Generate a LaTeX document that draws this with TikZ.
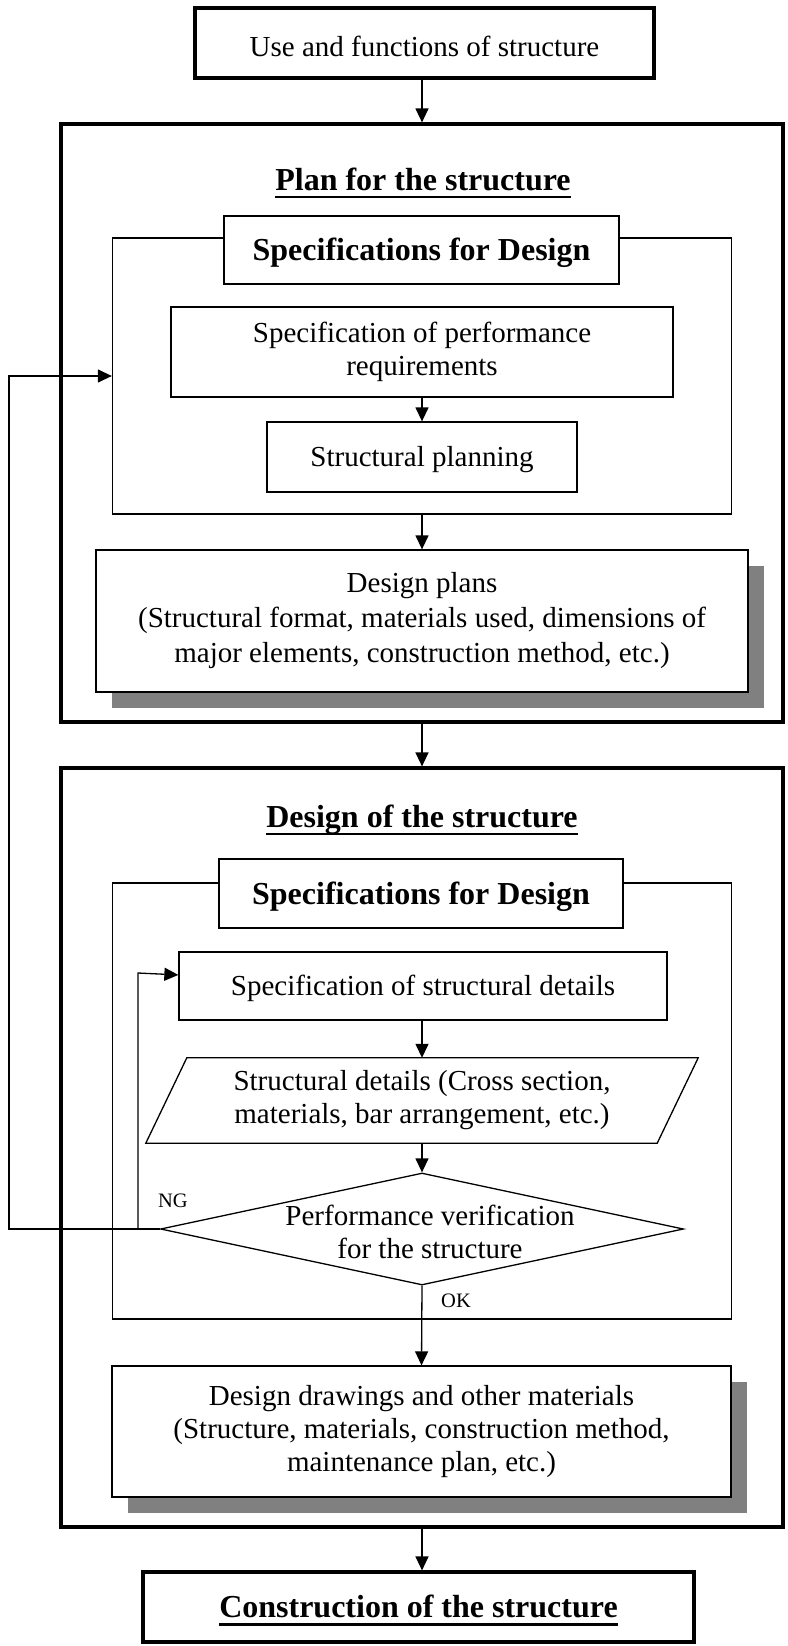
\documentclass[tikz,border=0pt]{standalone}
\usepackage{fontspec}
\setmainfont{Liberation Serif}
\usetikzlibrary{arrows.meta,shapes.geometric,shadows,calc}

% underlined heading text with a fixed rule below the baseline
\newcommand\undertitle[1]{\setbox0=\hbox{#1}\rlap{\rule[-0.26em]{\wd0}{0.08em}}\box0}
\newcommand\rmtext{\fontsize{29pt}{33pt}\selectfont}
\newcommand\bftext{\fontsize{32pt}{36pt}\selectfont\bfseries}
\newcommand\smtext{\fontsize{20.5pt}{24pt}\selectfont}

\begin{document}
\begin{tikzpicture}[x=1pt,y=-1pt,
  heavybox/.style={draw, line width=3.2pt, fill=white, inner sep=0pt},
  lightbox/.style={draw, line width=1.3pt, fill=white, inner sep=0pt, align=center, font=\rmtext},
  frame/.style={draw, line width=1.3pt, inner sep=0pt},
  shadowed/.style={general shadow={fill=black!50, shadow xshift=16pt, shadow yshift=-16pt}},
  flow/.style={line width=1.3pt, -{Triangle[length=14pt,width=13pt]}},
  link/.style={line width=1.3pt},
  caps/.style={text height=19pt, text depth=0pt},
  bcaps/.style={text height=21pt, text depth=0pt},
  tag/.style={inner sep=0pt, font=\smtext},
  heading/.style={inner sep=0pt, font=\bftext, anchor=base},
]
\useasboundingbox (0,0) rectangle (787,1646);

% ---- input
\node[heavybox, font=\rmtext, text height=28pt, text depth=0pt,
      minimum width=459pt, minimum height=70pt] (use) at (424.5,43) {Use and functions of structure};

% ---- planning stage
\node[heavybox, minimum width=722pt, minimum height=598pt] (outer1) at (422,423) {};
\node[heading] (title1) at (423,190) {\undertitle{Plan for the structure}};
\node[frame, minimum width=619pt, minimum height=276pt] (frame1) at (422,376) {};
\node[lightbox, font=\bftext, bcaps, minimum width=395pt, minimum height=68pt] (spec1) at (421.5,250) {Specifications for Design};
\node[lightbox, minimum width=502pt, minimum height=90pt] (perf) at (422,352) {Specification of performance\\requirements};
\node[lightbox, caps, minimum width=310pt, minimum height=70pt] (splan) at (422,457) {Structural planning};
\node[lightbox, shadowed, font={\fontsize{29pt}{35pt}\selectfont}, minimum width=652pt, minimum height=142pt] (dplans) at (422,621)
  {Design plans\\(Structural format, materials used, dimensions of\\major elements, construction method, etc.)};

% ---- design stage
\node[heavybox, minimum width=722pt, minimum height=759pt] (outer2) at (422,1147.5) {};
\node[heading] (title2) at (422,827) {\undertitle{Design of the structure}};
\node[frame, minimum width=619pt, minimum height=436pt] (frame2) at (422,1101) {};
\node[lightbox, font=\bftext, bcaps, minimum width=404pt, minimum height=69pt] (spec2) at (421,893.5) {Specifications for Design};
\node[lightbox, caps, minimum width=488pt, minimum height=68pt] (sdet) at (423,986) {Specification of structural details};
\node[align=center, inner sep=0pt, font=\rmtext, minimum width=511pt, minimum height=85pt] (para) at (422,1100.5)
  {Structural details (Cross section,\\materials, bar arrangement, etc.)};
\draw[link] ([xshift=-20.5pt]para.south west) -- ([xshift=-20.5pt]para.south east)
  -- ([xshift=20.5pt]para.north east) -- ([xshift=20.5pt]para.north west) -- cycle;
\node[diamond, draw, line width=1.3pt, fill=white, inner sep=0pt,
      minimum width=523pt, minimum height=112pt] (dia) at (422,1229) {};
\node[align=center, inner sep=0pt, font=\rmtext] (diatext) at (430,1232) {Performance verification\\for the structure};
\node[tag] (ng) at (173,1201) {NG};
\node[tag] (ok) at (456,1301) {OK};
\node[lightbox, shadowed, minimum width=619pt, minimum height=131pt] (ddraw) at (421.5,1431.5)
  {Design drawings and other materials\\(Structure, materials, construction method,\\maintenance plan, etc.)};

% ---- output
\node[heavybox, font=\bftext, bcaps, minimum width=551pt, minimum height=70pt] (cons) at (418.5,1607)
  {\undertitle{Construction of the structure}};

% ---- flow
\draw[flow] (use.south -| outer1.north) -- (outer1.north);
\draw[flow] (perf.south) -- (splan.north);
\draw[flow] (frame1.south) -- (dplans.north);
\draw[flow] (outer1.south) -- (outer2.north);
\draw[flow] (sdet.south -| para.north) -- (para.north);
\draw[flow] (para.south) -- (dia.north);
\draw[flow] (dia.south) -- (ddraw.north);
\draw[flow] (outer2.south) -- (outer2.south |- cons.north);

% ---- NG feedback loops
\coordinate (ngl) at (9,1229);
\coordinate (ngbranch) at (138,1229);
\coordinate (ngup) at (138,973);
\coordinate (sdetin) at ($(sdet.north west)!0.34!(sdet.south west)$);
\draw[flow] (dia.west) -- (ngl) |- (frame1.west);
\draw[flow] (ngbranch) -- (ngup) -- (sdetin);
\end{tikzpicture}
\end{document}
